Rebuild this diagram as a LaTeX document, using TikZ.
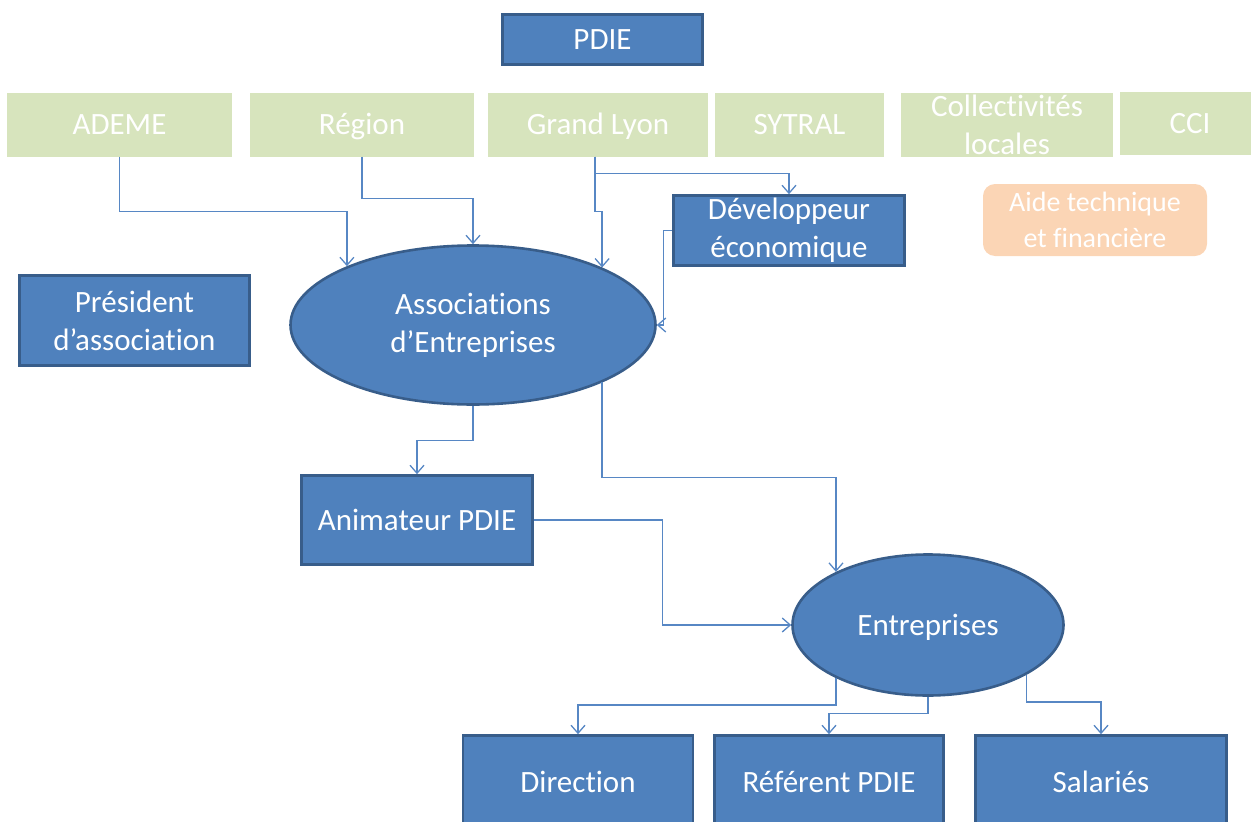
\documentclass[tikz,border=0pt]{standalone}
\usepackage{fontspec}
\setmainfont{Carlito}[Ligatures = CommonOff]
\usetikzlibrary{shapes.geometric,arrows.meta}
\definecolor{boxblue}{HTML}{4F81BD}
\definecolor{boxedge}{HTML}{385D8A}
\definecolor{fundgreen}{HTML}{D7E4BD}
\definecolor{aidpeach}{HTML}{FBD5B5}
\definecolor{linkblue}{HTML}{5787C4}
\tikzset{
	actor/.style = {draw = boxedge, line width = 2.6pt, fill = boxblue, text = white, align = center,
		font = \fontsize{31}{38}\selectfont, inner sep = 0pt},
	oneline/.style = {text height = 26pt, text depth = 6pt},
	funder/.style = {fill = fundgreen, text = white, align = center, oneline,
		font = \fontsize{31}{38}\selectfont, inner sep = 0pt, minimum height = 64pt},
	link/.style = {draw = linkblue, line width = 1.3pt, -{Straight Barb[length=8pt,width=14pt]}}
}
\begin{document}
\begin{tikzpicture}[x = 1pt, y = -1pt]
		\clip (0,0) rectangle (1251,822);
		
		\node (pdie) at (602.5,39.5) [actor, oneline, minimum width = 200, minimum height = 50] {PDIE};
		
		\node (ademe) at (119.5,124.5) [funder, minimum width = 225] {ADEME};
		\node (region) at (362,124.5) [funder, minimum width = 224] {Région};
		\node (lyon) at (598,124.5) [funder, minimum width = 220] {Grand Lyon};
		\node (sytral) at (799.5,124.5) [funder, minimum width = 169] {SYTRAL};
		\node (coll) at (1007,125) [funder, minimum width = 212] {};
		\node (colltext) at (coll) [text = white, align = center, inner sep = 0pt,
			font = \fontsize{31}{38}\selectfont] {Collectivités\\locales};
		\node (cci) at (1190,123.5) [funder, minimum width = 140, minimum height = 63] {CCI};
		
		\node (aide) at (1095,220) [fill = aidpeach, rounded corners = 12pt, text = white, align = center,
			inner sep = 0pt, minimum width = 224, minimum height = 72,
			font = \fontsize{28}{36}\selectfont] {Aide technique\\et financière};
		
		\node (dev) at (789,230.5) [actor, minimum width = 231, minimum height = 70] {Développeur\\économique};
		\node (pres) at (134.5,320.5) [actor, minimum width = 230, minimum height = 90] {Président\\d’association};
		\node (assoc) at (473,325) [actor, ellipse, minimum width = 365, minimum height = 159] {Associations\\d’Entreprises};
		\node (anim) at (417,520) [actor, oneline, minimum width = 231, minimum height = 89] {Animateur PDIE};
		\node (ent) at (928,625) [actor, oneline, ellipse, minimum width = 271, minimum height = 141] {Entreprises};
		
		\node (dir) at (578,782) [actor, oneline, minimum width = 230, minimum height = 93] {Direction};
		\node (ref) at (829,782) [actor, oneline, minimum width = 229, minimum height = 93] {Référent PDIE};
		\node (sal) at (1101,782) [actor, oneline, minimum width = 251, minimum height = 93] {Salariés};
		
		\draw [link] (ademe.south) -- ++(0,55) -| (assoc.155.6);
		\draw [link] (region.south) -- ++(0,42) -| (assoc.north);
		\draw [link] ([xshift = -3pt]lyon.south) -- ++(0,55) -| (assoc.24.8);
		\draw [link] ([xshift = -3pt]lyon.south) -- ++(0,17) -| (dev.north);
		\draw [link] (dev.west) -- ++(-9,0) |- (assoc.east);
		
		\draw [link] (assoc.south) -- ++(0,35) -| (anim.north);
		\draw [link] (assoc.-24.8) -- ++(0,95) -| (ent.150.9);
		\draw [link] (anim.east) -- ++(129,0) |- (ent.west);
		
		\draw [link] (ent.-150.9) -- ++(0,27) -| (dir.north);
		\draw [link] (ent.south) -- ++(0,17) -| (ref.north);
		\draw [link] (ent.-27.2) -- ++(0,27) -| (sal.north);
\end{tikzpicture}
\end{document}
